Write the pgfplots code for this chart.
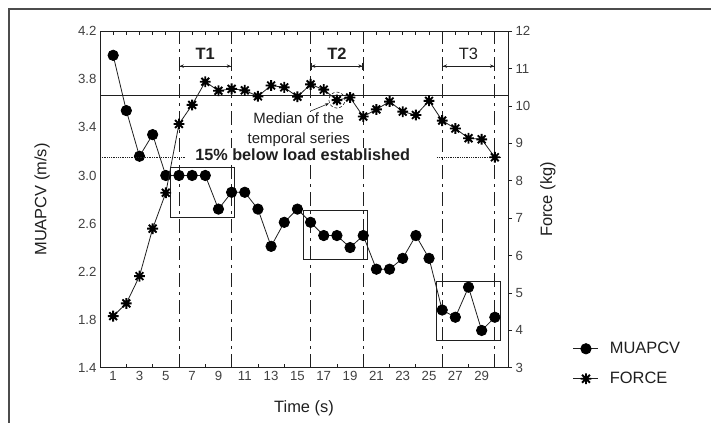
\documentclass[border=0pt]{standalone}
\usepackage{pgfplots}
\pgfplotsset{compat=1.18}
\usepackage{fontspec}
\setmainfont{Liberation Sans}
\usetikzlibrary{arrows.meta}
\definecolor{ink}{gray}{0.12}

\pgfdeclareplotmark{ast8}{%
  \pgfpathmoveto{\pgfqpoint{-\pgfplotmarksize}{0pt}}\pgfpathlineto{\pgfqpoint{\pgfplotmarksize}{0pt}}%
  \pgfpathmoveto{\pgfqpoint{0pt}{-\pgfplotmarksize}}\pgfpathlineto{\pgfqpoint{0pt}{\pgfplotmarksize}}%
  \pgfpathmoveto{\pgfqpoint{-0.72\pgfplotmarksize}{-0.72\pgfplotmarksize}}\pgfpathlineto{\pgfqpoint{0.72\pgfplotmarksize}{0.72\pgfplotmarksize}}%
  \pgfpathmoveto{\pgfqpoint{-0.72\pgfplotmarksize}{0.72\pgfplotmarksize}}\pgfpathlineto{\pgfqpoint{0.72\pgfplotmarksize}{-0.72\pgfplotmarksize}}%
  \pgfusepathqstroke}

\tikzset{
  tarrow/.style={ink, line width=0.8bp, {Bar[width=7bp]Stealth[length=4bp,width=3.5bp]}-{Stealth[length=4bp,width=3.5bp]Bar[width=7bp]}},
  vdash/.style={ink, line width=0.9bp, dash pattern=on 14bp off 5bp on 3bp off 5bp},
}
\pgfplotsset{
  base/.style={scale only axis, width=408bp, height=336.4bp, at={(100bp,55.3bp)}, anchor=south west,
    xmin=0, xmax=31, clip=false,
    axis line style={ink, line width=1bp},
    tick style={ink, line width=0.8bp},
    ticklabel style={font=\fontsize{13.3}{15}\selectfont, text=black!75},
    /pgf/number format/assume math mode=true,
    label style={font=\fontsize{16.5}{19}\selectfont, text=ink}},
  mstyle/.style={ink, line width=0.8bp, mark=*, mark size=5.2bp, mark options={fill=black, draw=black, solid}},
  fstyle/.style={ink, line width=0.8bp, mark=ast8, mark size=5.4bp, mark options={draw=black, line width=1.9bp, solid}},
}

\begin{document}
\begin{tikzpicture}
\useasboundingbox (0,0) rectangle (711bp,423bp);
\draw[line width=1.3bp, black!70] (9bp,-2bp) -- (9bp,414bp) -- (713bp,414bp);

% left axis: MUAPCV
\begin{axis}[base, ymin=1.4, ymax=4.2,
  ytick={1.4,1.8,2.2,2.6,3.0,3.4,3.8,4.2},
  yticklabel style={/pgf/number format/.cd, fixed, fixed zerofill, precision=1},
  xtick={1,3,...,29}, minor xtick={2,4,...,30},
  xtick pos=bottom, ytick pos=left, tick align=inside,
  major tick length=0pt, minor tick length=4bp,
  xlabel={Time (s)}, ylabel={MUAPCV (m/s)},
  xlabel style={at={(axis description cs:0.5,-0.12)}, anchor=center},
  ylabel style={at={(axis description cs:-0.142,0.5)}, anchor=center}]
\draw[vdash] (axis cs:6,1.4) -- (axis cs:6,4.2);
\draw[vdash] (axis cs:10,1.4) -- (axis cs:10,4.2);
\draw[vdash] (axis cs:16,1.4) -- (axis cs:16,4.2);
\draw[vdash] (axis cs:20,1.4) -- (axis cs:20,4.2);
\draw[vdash] (axis cs:26,1.4) -- (axis cs:26,4.2);
\draw[vdash] (axis cs:30,1.4) -- (axis cs:30,4.2);
\draw[ink, line width=0.8bp] (axis cs:5.38,2.65) rectangle (axis cs:10.18,3.07);
\draw[ink, line width=0.8bp] (axis cs:15.44,2.30) rectangle (axis cs:20.29,2.71);
\draw[ink, line width=0.8bp] (axis cs:25.53,1.63) rectangle (axis cs:30.4,2.12);
\draw[tarrow] (axis cs:6,3.91) -- (axis cs:10,3.91);
\draw[tarrow] (axis cs:16,3.91) -- (axis cs:20,3.91);
\draw[tarrow] (axis cs:26,3.91) -- (axis cs:30,3.91);
\node[font=\bfseries\fontsize{16.5}{19}\selectfont, text=ink] at (axis cs:8,4.01) {T1};
\node[font=\bfseries\fontsize{16.5}{19}\selectfont, text=ink] at (axis cs:18,4.01) {T2};
\node[font=\fontsize{16.5}{19}\selectfont, text=ink] at (axis cs:28,4.01) {T3};
\node[fill=white, inner sep=1bp, align=center, font=\fontsize{15}{20}\selectfont, text=ink] at (axis cs:15.1,3.38) {Median of the\\temporal series};
\draw[-{Stealth[length=4bp]}, ink, line width=0.6bp] (axis cs:16.0,3.536) -- (axis cs:17.4,3.60);
\addplot[mstyle] coordinates {
(1,4.00) (2,3.54) (3,3.16) (4,3.34) (5,3.00) (6,3.00) (7,3.00) (8,3.00) (9,2.72) (10,2.86)
(11,2.86) (12,2.72) (13,2.41) (14,2.61) (15,2.72) (16,2.61) (17,2.50) (18,2.50) (19,2.40) (20,2.50)
(21,2.22) (22,2.22) (23,2.31) (24,2.50) (25,2.31) (26,1.88) (27,1.82) (28,2.07) (29,1.71) (30,1.82)};
\end{axis}

% right axis: Force
\begin{axis}[base, ymin=3, ymax=12, ytick={3,4,...,12},
  axis y line*=right, axis x line=none, tick align=outside, major tick length=4bp,
  ylabel={Force (kg)},
  ylabel style={at={(axis description cs:1.098,0.5)}, anchor=center},
  legend style={at={(axis description cs:1.159,0.082)}, anchor=north west, draw=none, fill=none,
    font=\fontsize{16.5}{19}\selectfont, text=ink, row sep=13bp, column sep=9bp, inner sep=0pt},
  legend cell align=left,
  legend image code/.code={\draw[mark repeat=2, mark phase=2, #1] plot coordinates {(0bp,0bp) (12.5bp,0bp) (25bp,0bp)};}]
\draw[ink, line width=1bp] (axis cs:0,10.27) -- (axis cs:31,10.27);
\draw[ink, line width=0.8bp, densely dotted] (axis cs:0,8.63) -- (axis cs:6.45,8.63);
\draw[ink, line width=0.8bp, densely dotted] (axis cs:25.6,8.63) -- (axis cs:30.5,8.63);
\node[fill=white, inner sep=1bp, font=\bfseries\fontsize{16.3}{19}\selectfont, text=ink] at (axis cs:15.4,8.69) {15\% below load established};
\draw[ink, densely dashed, line width=0.6bp] (axis cs:18,10.16) circle[radius=8bp];
\addlegendimage{mstyle}
\addlegendentry{MUAPCV}
\addplot[fstyle] coordinates {
(1,4.38) (2,4.72) (3,5.45) (4,6.72) (5,7.68) (6,9.52) (7,10.03) (8,10.65) (9,10.41) (10,10.46)
(11,10.42) (12,10.26) (13,10.55) (14,10.50) (15,10.25) (16,10.58) (17,10.44) (18,10.16) (19,10.23) (20,9.72)
(21,9.91) (22,10.12) (23,9.85) (24,9.76) (25,10.14) (26,9.61) (27,9.40) (28,9.14) (29,9.11) (30,8.63)};
\addlegendentry{FORCE}
\end{axis}

% top ticks
\begin{axis}[base, ymin=0, ymax=1, axis x line*=top, axis y line=none,
  xtick={1,2,...,30}, xticklabels={}, tick align=inside, major tick length=4bp]
\end{axis}
\end{tikzpicture}
\end{document}
